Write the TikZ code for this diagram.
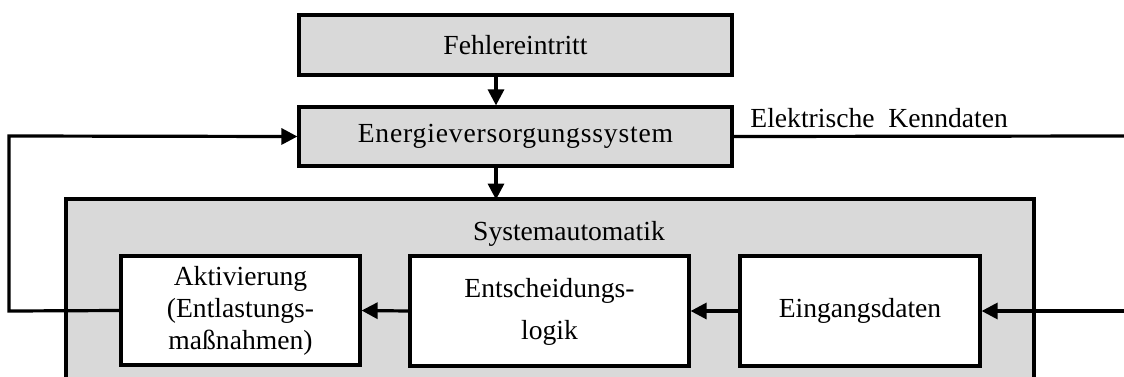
\documentclass[tikz,border=0pt]{standalone}
\usepackage{fontspec}
\setmainfont{Liberation Serif}
\usetikzlibrary{arrows.meta}
\definecolor{boxgray}{HTML}{D9D9D9}
\tikzset{
  line/.style={line width=1.6pt},
  flow/.style={line width=1.6pt,-{Triangle[length=8pt,width=8pt]}},
  graybox/.style={draw,line width=1.6pt,fill=boxgray,inner sep=0pt,align=center,
    font=\fontsize{13.8}{16}\selectfont},
  whitebox/.style={draw,line width=1.6pt,fill=white,inner sep=0pt,align=center},
  lbl/.style={inner sep=0pt,font=\fontsize{13.8}{16}\selectfont}
}
\begin{document}
\begin{tikzpicture}[x=0.5pt,y=-0.5pt]
\useasboundingbox (0,0) rectangle (1124,376);
\clip (0,0) rectangle (1124,376);

% outer automation block (runs past the lower edge)
\draw[line width=1.6pt,fill=boxgray] (66,199) rectangle (1034,420);
\node[lbl,anchor=base] (sysl) at (569,240) {Systemautomatik};

% upper chain
\node[graybox,minimum width=216.5pt,minimum height=30pt] (fehler) at (515.5,45) {Fehlereintritt};
\node[graybox,minimum width=216.5pt,minimum height=29.5pt] (energie) at (515.5,136.5)
  {\addfontfeatures{LetterSpace=3}Energieversorgungssystem};

% inner blocks
\node[whitebox,minimum width=119.5pt,minimum height=54.5pt,
  font=\fontsize{13.8}{16}\selectfont] (akt) at (240.5,310.5)
  {Aktivierung\\(Entlastungs-\\maßnahmen)};
\node[whitebox,minimum width=139.5pt,minimum height=55pt,
  font=\fontsize{13.8}{19}\selectfont] (ent) at (549.5,311)
  {\raisebox{-2.5pt}{\begin{tabular}{@{}c@{}}Entscheidungs-\\[2pt]logik\end{tabular}}};
\node[whitebox,minimum width=120pt,minimum height=55pt,
  font=\fontsize{13.8}{16}\selectfont] (ein) at (860,311) {Eingangsdaten};

% free ends at the picture border
\coordinate (fbl) at (9,311);
\coordinate (fbt) at (9,136);
\coordinate (kout) at (1124,136);
\coordinate (din) at (1124,311);

% connectors
\draw[flow] ([xshift=-9.75pt]fehler.south) -- ([xshift=-9.75pt]energie.north);
\draw[flow] ([xshift=-9.75pt]energie.south) -- ++(0,32);
\draw[flow] (ent.west) -- (akt.east);
\draw[flow] (ein.west) -- (ent.east);
\draw[flow] (din) -- (ein.east);
\draw[flow] (akt.west) -- (fbl) -- (fbt) -- (energie.west);
\draw[line] (energie.east) -- (kout);
\node[lbl,anchor=base west] (kenn) at (750,127) {Elektrische\hspace{0.5em}Kenndaten};
\end{tikzpicture}
\end{document}
